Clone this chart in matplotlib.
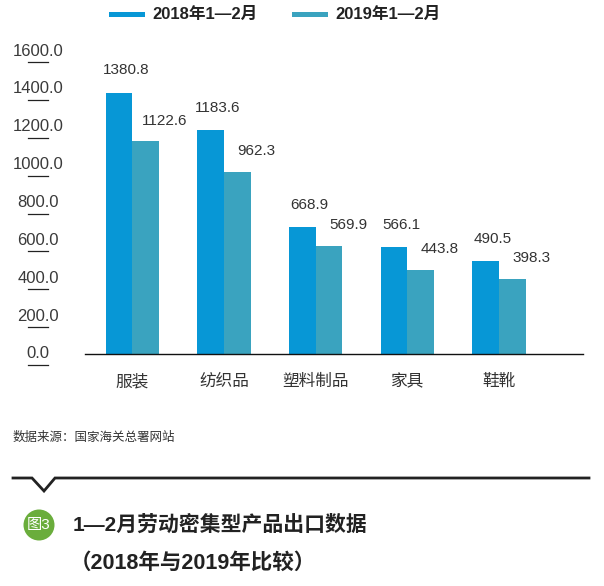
import matplotlib
matplotlib.use("Agg")
import matplotlib.pyplot as plt
import numpy as np
from matplotlib.lines import Line2D
from matplotlib.patches import Rectangle, Circle
from matplotlib import transforms

plt.rcParams['font.family'] = ['Liberation Sans', 'Noto Sans CJK SC', 'DejaVu Sans']

categories = ['服装', '纺织品', '塑料制品', '家具', '鞋靴']
series_names = ['2018年1—2月', '2019年1—2月']
values_2018 = [1380.8, 1183.6, 668.9, 566.1, 490.5]
values_2019 = [1122.6, 962.3, 569.9, 443.8, 398.3]
y_ticks = [0, 200, 400, 600, 800, 1000, 1200, 1400, 1600]

source_text = '数据来源：国家海关总署网站'
title_line1 = '1—2月劳动密集型产品出口数据'
title_line2 = '（2018年与2019年比较）'
badge_text = '图3'

color_2018 = '#0797d6'
color_2019 = '#3aa3bf'
text_color = '#333333'

W, H = 604, 586
fig = plt.figure(figsize=(W / 100, H / 100), dpi=100)
fig.patch.set_facecolor('white')


def px(x, y):
    # pixel position (from top-left) -> inches for dpi_scale_trans
    return x / 100, (H - y) / 100


ax = fig.add_axes([85 / W, (H - 354) / H, 498 / W, 303 / H])
x = np.arange(len(categories))
width = 0.29
ax.bar(x - width / 2, values_2018, width, color=color_2018)
ax.bar(x + width / 2, values_2019, width, color=color_2019)
ax.set_xlim(-0.516, 4.917)
ax.set_ylim(0, 1600)

for s in ['top', 'right', 'left']:
    ax.spines[s].set_visible(False)
ax.spines['bottom'].set_linewidth(1.0)
ax.spines['bottom'].set_color('#111111')

ax.set_xticks(x)
ax.set_xticklabels(categories, fontsize=12, color=text_color)
ax.tick_params(axis='x', length=0, pad=14)
ax.set_yticks([])

# value labels
for i in range(len(categories)):
    ax.annotate(f'{values_2018[i]:.1f}', xy=(x[i] - width / 2, values_2018[i]),
                xytext=(5, 16), textcoords='offset points', ha='center', va='center',
                fontsize=11, color=text_color)
    ax.annotate(f'{values_2019[i]:.1f}', xy=(x[i] + width / 2, values_2019[i]),
                xytext=(14, 15), textcoords='offset points', ha='center', va='center',
                fontsize=11, color=text_color)

# y tick labels with a short dash underneath
ytrans = transforms.blended_transform_factory(fig.transFigure, ax.transData)
dash_offset = transforms.ScaledTranslation(0, -11 / 100, fig.dpi_scale_trans)
for t in y_ticks:
    ax.text(38 / W, t, f'{t:.1f}', transform=ytrans, ha='center', va='center',
            fontsize=12, color='#3a3a3a', clip_on=False)
    ax.add_line(Line2D([28 / W, 48 / W], [t, t], transform=ytrans + dash_offset,
                       color='#222222', lw=0.9, clip_on=False))

# legend
for name, col, x0 in [(series_names[0], color_2018, 109), (series_names[1], color_2019, 292)]:
    rx, ry = px(x0, 16.5)
    fig.add_artist(Rectangle((rx, ry), 0.36, 0.05, transform=fig.dpi_scale_trans,
                             color=col, lw=0))
    tx, ty = px(x0 + 43, 14.5)
    fig.text(tx, ty, name, transform=fig.dpi_scale_trans, ha='left', va='center',
             fontsize=12, fontweight='bold', color='#222222')

# source
sx, sy = px(13, 438)
fig.text(sx, sy, source_text, transform=fig.dpi_scale_trans, ha='left', va='center',
         fontsize=9, color=text_color)

# separator with notch
line_x = [13, 32, 44, 55, 589]
line_y = [478, 478, 491, 478, 478]
pts = [px(a, b) for a, b in zip(line_x, line_y)]
fig.add_artist(Line2D([p[0] for p in pts], [p[1] for p in pts], transform=fig.dpi_scale_trans,
                      color='#222222', lw=2, solid_joinstyle='miter'))

# badge
cx, cy = px(39, 525)
fig.add_artist(Circle((cx, cy), 0.155, transform=fig.dpi_scale_trans, color='#6aad3c', lw=0))
fig.text(cx, cy, badge_text, transform=fig.dpi_scale_trans, ha='center', va='center',
         fontsize=11, color='white')

t1x, t1y = px(73, 525)
fig.text(t1x, t1y, title_line1, transform=fig.dpi_scale_trans, ha='left', va='center',
         fontsize=15, fontweight='bold', color='#222222')
t2x, t2y = px(70, 563)
fig.text(t2x, t2y, title_line2, transform=fig.dpi_scale_trans, ha='left', va='center',
         fontsize=15.5, fontweight='bold', color='#222222')

fig.savefig('out.png', dpi=100, facecolor='white')
